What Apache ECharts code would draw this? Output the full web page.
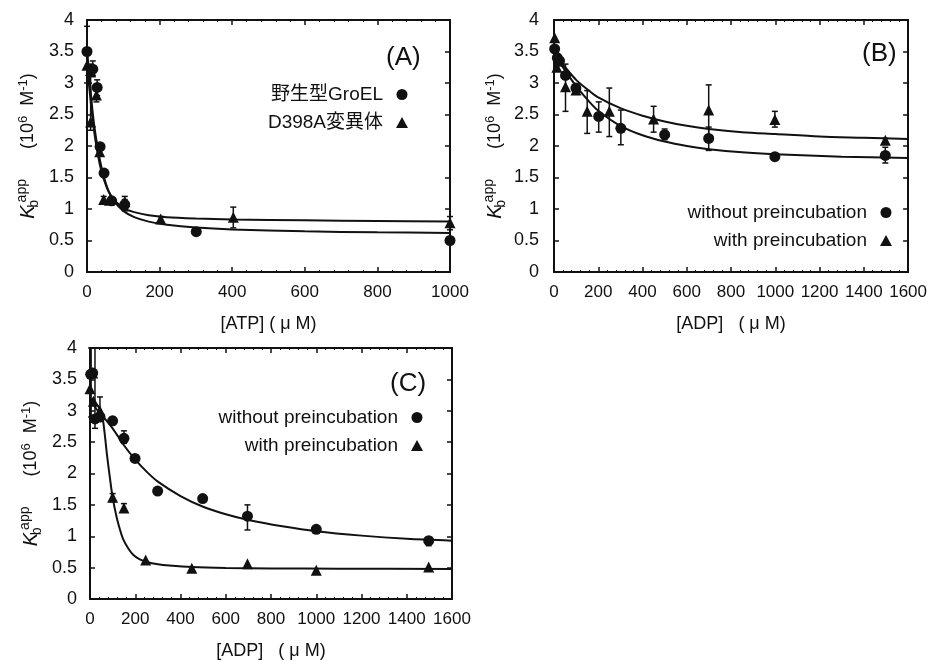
<!DOCTYPE html>
<html>
<head>
<meta charset="utf-8">
<script src="https://cdn.jsdelivr.net/npm/echarts@6/dist/echarts.min.js"></script>
<style>
  html, body { margin: 0; padding: 0; background: #fff; }
  #main { width: 930px; height: 661px; }
</style>
</head>
<body>
<div id="main"></div>
<script>
// (A) ATP, wild type vs D398A
var atpWtPoints = [[0, 3.5], [16, 3.22], [28, 2.93], [36, 1.99], [47, 1.57], [68, 1.13], [104, 1.07], [301, 0.64], [1000, 0.5]];
var atpMutPoints = [[0, 3.28], [10, 3.2], [10, 2.38], [26, 2.81], [35, 1.91], [46, 1.15], [62, 1.14], [104, 1.12], [203, 0.84], [403, 0.87], [1000, 0.78]];
var atpWtErr = [[0, 3.0, 3.9], [16, 3.1, 3.35], [28, 2.8, 3.05], [104, 1.0, 1.15], [1000, 0.45, 0.55]];
var atpMutErr = [[10, 2.25, 3.3], [26, 2.7, 2.95], [46, 1.1, 1.2], [104, 0.97, 1.2], [203, 0.8, 0.88], [403, 0.7, 1.03], [1000, 0.67, 0.88]];
var atpWtFit = [[0, 3.55], [5, 3.2], [10, 2.87], [15, 2.57], [20, 2.32], [30, 1.95], [40, 1.66], [50, 1.44], [60, 1.28], [75, 1.12], [100, 0.97], [130, 0.87], [170, 0.8], [220, 0.75], [300, 0.705], [400, 0.675], [600, 0.645], [800, 0.63], [1000, 0.62]];
var atpMutFit = [[0, 3.3], [5, 3.0], [10, 2.72], [15, 2.46], [20, 2.22], [30, 1.86], [40, 1.59], [50, 1.41], [60, 1.27], [75, 1.14], [90, 1.06], [100, 1.01], [130, 0.95], [170, 0.9], [220, 0.87], [300, 0.85], [400, 0.835], [600, 0.82], [800, 0.81], [1000, 0.8]];

// (B) ADP
var adpBNoPre = [[3, 3.54], [15, 3.4], [25, 3.35], [52, 3.12], [99, 2.92], [202, 2.47], [302, 2.28], [500, 2.18], [699, 2.12], [998, 1.83], [1497, 1.85]];
var adpBPre = [[3, 3.72], [13, 3.25], [25, 3.35], [52, 2.94], [99, 2.89], [150, 2.55], [250, 2.55], [450, 2.43], [699, 2.57], [998, 2.42], [1497, 2.09]];
var adpBNoPreErr = [[99, 2.82, 2.98], [202, 2.22, 2.7], [302, 2.02, 2.57], [500, 2.1, 2.27], [699, 1.93, 2.3], [1497, 1.73, 1.98]];
var adpBPreErr = [[13, 3.2, 3.4], [52, 2.55, 3.3], [150, 2.2, 2.88], [250, 2.15, 2.92], [450, 2.22, 2.63], [699, 2.17, 2.97], [998, 2.3, 2.55], [1497, 2.05, 2.12]];
var adpBNoPreFit = [[0, 3.45], [50, 3.2], [100, 2.95], [150, 2.74], [200, 2.56], [300, 2.32], [400, 2.17], [500, 2.07], [600, 2.0], [700, 1.95], [850, 1.9], [1000, 1.87], [1300, 1.83], [1600, 1.81]];
var adpBPreFit = [[0, 3.45], [50, 3.25], [100, 3.05], [150, 2.9], [200, 2.77], [300, 2.6], [400, 2.48], [500, 2.39], [600, 2.32], [700, 2.27], [850, 2.22], [1000, 2.19], [1200, 2.15], [1400, 2.13], [1600, 2.11]];

// (C) ADP
var adpCNoPre = [[3, 3.58], [12, 3.6], [22, 2.87], [44, 2.9], [100, 2.84], [150, 2.56], [199, 2.24], [299, 1.72], [498, 1.6], [696, 1.32], [1000, 1.11], [1497, 0.93]];
var adpCPre = [[0, 3.35], [12, 3.6], [15, 3.15], [44, 3.0], [100, 1.62], [150, 1.45], [246, 0.62], [450, 0.49], [696, 0.56], [1000, 0.46], [1497, 0.51]];
var adpCNoPreErr = [[5, 2.9, 4], [22, 2.72, 4], [100, 2.78, 2.9], [150, 2.48, 2.68], [696, 1.1, 1.5], [1497, 0.85, 0.98]];
var adpCPreErr = [[44, 2.9, 3.22], [100, 1.55, 1.68], [150, 1.4, 1.52]];
var adpCNoPreFit = [[0, 3.2], [30, 3.02], [60, 2.9], [100, 2.72], [150, 2.45], [200, 2.22], [250, 2.03], [300, 1.87], [400, 1.64], [500, 1.47], [600, 1.35], [700, 1.26], [850, 1.16], [1000, 1.08], [1200, 1.01], [1400, 0.96], [1600, 0.93]];
var adpCPreFit = [[0, 3.2], [20, 3.14], [40, 3.05], [55, 2.9], [66, 2.6], [75, 2.3], [88, 1.93], [100, 1.62], [118, 1.3], [133, 1.1], [147, 0.95], [170, 0.8], [192, 0.7], [220, 0.63], [251, 0.59], [300, 0.555], [350, 0.535], [450, 0.51], [600, 0.495], [800, 0.488], [1100, 0.483], [1600, 0.48]];

var yTicks = ['0', '0.5', '1', '1.5', '2', '2.5', '3', '3.5', '4'];

var FONT = "'Liberation Sans', Arial, sans-serif";
var INK = '#111';

var chart = echarts.init(document.getElementById('main'));

var grids = [
    { left: 87, top: 20, width: 363, height: 252 },
    { left: 554, top: 20, width: 362, height: 252 },
    { left: 90, top: 348, width: 362, height: 255 }
];

var xAxes = [];
var yAxes = [];
function addAxes(gi, xmax, xname, labelMargin) {
    var line = { onZero: false, lineStyle: { color: INK, width: 2 } };
    var tick = { inside: true, length: 5, lineStyle: { color: INK, width: 1.5 } };
    var minor = { show: true, splitNumber: 5, length: 2, lineStyle: { color: INK } };
    xAxes.push({
        gridIndex: gi, type: 'value', min: 0, max: xmax, interval: 200, position: 'bottom',
        name: xname, nameLocation: 'middle', nameGap: 43,
        nameTextStyle: { fontFamily: FONT, fontSize: 18, color: INK },
        axisLine: line, axisTick: tick, minorTick: minor,
        axisLabel: { fontFamily: FONT, fontSize: 17, color: INK, margin: 12, formatter: function (v) { return String(v); } },
        splitLine: { show: false }
    });
    xAxes.push({
        gridIndex: gi, type: 'value', min: 0, max: xmax, interval: 200, position: 'top',
        axisLine: line, axisTick: tick, minorTick: minor,
        axisLabel: { show: false },
        splitLine: { show: false }
    });
    yAxes.push({
        gridIndex: gi, type: 'value', min: 0, max: 4, interval: 0.5, position: 'left',
        name: '{k|K}{b|b}{ap|app}      (10{s|6}  M{s|-1})', nameLocation: 'middle', nameGap: 46,
        nameTextStyle: {
            fontFamily: FONT, fontSize: 18, color: INK,
            rich: {
                k: { fontFamily: FONT, fontSize: 20, fontStyle: 'italic', color: INK },
                b: { fontFamily: FONT, fontSize: 14, color: INK, width: 3, padding: [12, 0, 0, 0] },
                ap: { fontFamily: FONT, fontSize: 14, color: INK, padding: [0, 0, 12, 0] },
                s: { fontFamily: FONT, fontSize: 13, color: INK, padding: [0, 0, 10, 0] }
            }
        },
        axisLine: line, axisTick: tick,
        axisLabel: { fontFamily: FONT, fontSize: 18, color: INK, margin: labelMargin, formatter: function (v) { return yTicks[Math.round(v * 2)]; } },
        splitLine: { show: false }
    });
    yAxes.push({
        gridIndex: gi, type: 'value', min: 0, max: 4, interval: 0.5, position: 'right',
        axisLine: line, axisTick: tick,
        axisLabel: { show: false },
        splitLine: { show: false }
    });
}
addAxes(0, 1000, '[ATP] ( μ M)', 13);
addAxes(1, 1600, '[ADP]   ( μ M)', 15);
addAxes(2, 1600, '[ADP]   ( μ M)', 13);

function errRender(params, api) {
    var top = api.coord([api.value(0), api.value(2)]);
    var bot = api.coord([api.value(0), api.value(1)]);
    var st = { stroke: INK, lineWidth: 1.5 };
    return {
        type: 'group',
        children: [
            { type: 'line', shape: { x1: top[0], y1: top[1], x2: bot[0], y2: bot[1] }, style: st },
            { type: 'line', shape: { x1: top[0] - 3, y1: top[1], x2: top[0] + 3, y2: top[1] }, style: st },
            { type: 'line', shape: { x1: bot[0] - 3, y1: bot[1], x2: bot[0] + 3, y2: bot[1] }, style: st }
        ]
    };
}

var series = [];
function addPanel(gi, names, circ, tri, circErr, triErr, circFit, triFit) {
    var xi = gi * 2, yi = gi * 2;
    series.push({ type: 'line', xAxisIndex: xi, yAxisIndex: yi, data: circFit, showSymbol: false, smooth: 0.3, lineStyle: { color: INK, width: 2 }, silent: true, z: 2 });
    series.push({ type: 'line', xAxisIndex: xi, yAxisIndex: yi, data: triFit, showSymbol: false, smooth: 0.3, lineStyle: { color: INK, width: 2 }, silent: true, z: 2 });
    series.push({ type: 'custom', xAxisIndex: xi, yAxisIndex: yi, data: circErr, renderItem: errRender, z: 3 });
    series.push({ type: 'custom', xAxisIndex: xi, yAxisIndex: yi, data: triErr, renderItem: errRender, z: 3 });
    series.push({ name: names[0], type: 'scatter', xAxisIndex: xi, yAxisIndex: yi, data: circ, symbol: 'circle', symbolSize: 11, itemStyle: { color: INK, opacity: 1 }, z: 4 });
    series.push({ name: names[1], type: 'scatter', xAxisIndex: xi, yAxisIndex: yi, data: tri, symbol: 'triangle', symbolSize: 11, itemStyle: { color: INK, opacity: 1 }, z: 4 });
}
addPanel(0, ['野生型GroEL', 'D398A変異体'], atpWtPoints, atpMutPoints, atpWtErr, atpMutErr, atpWtFit, atpMutFit);
addPanel(1, ['without preincubation', 'with preincubation'], adpBNoPre, adpBPre, adpBNoPreErr, adpBPreErr, adpBNoPreFit, adpBPreFit);
addPanel(2, ['without preincubation', 'with preincubation'], adpCNoPre, adpCPre, adpCNoPreErr, adpCPreErr, adpCNoPreFit, adpCPreFit);

function legendAt(right, top, names) {
    return {
        orient: 'vertical', align: 'right', right: right, top: top, itemGap: 9,
        itemWidth: 12, itemHeight: 11, selectedMode: false,
        textStyle: { fontFamily: "'Liberation Sans', 'Noto Sans CJK JP', sans-serif", fontSize: 19, color: INK, padding: [0, 8, 0, 0] },
        itemStyle: { opacity: 1 },
        data: [{ name: names[0], icon: 'circle' }, { name: names[1], icon: 'triangle' }]
    };
}

var option = {
    backgroundColor: '#fff',
    animation: false,
    grid: grids,
    xAxis: xAxes,
    yAxis: yAxes,
    title: [
        { text: '(A)', left: 381, top: 40, textStyle: { fontFamily: FONT, fontSize: 26, fontWeight: 'normal', color: INK } },
        { text: '(B)', left: 857, top: 36, textStyle: { fontFamily: FONT, fontSize: 26, fontWeight: 'normal', color: INK } },
        { text: '(C)', left: 385, top: 366, textStyle: { fontFamily: FONT, fontSize: 26, fontWeight: 'normal', color: INK } }
    ],
    legend: [
        legendAt(517, 80, ['野生型GroEL', 'D398A変異体']),
        legendAt(33, 198, ['without preincubation', 'with preincubation']),
        legendAt(502, 403, ['without preincubation', 'with preincubation'])
    ],
    series: series
};
chart.setOption(option);
</script>
</body>
</html>
